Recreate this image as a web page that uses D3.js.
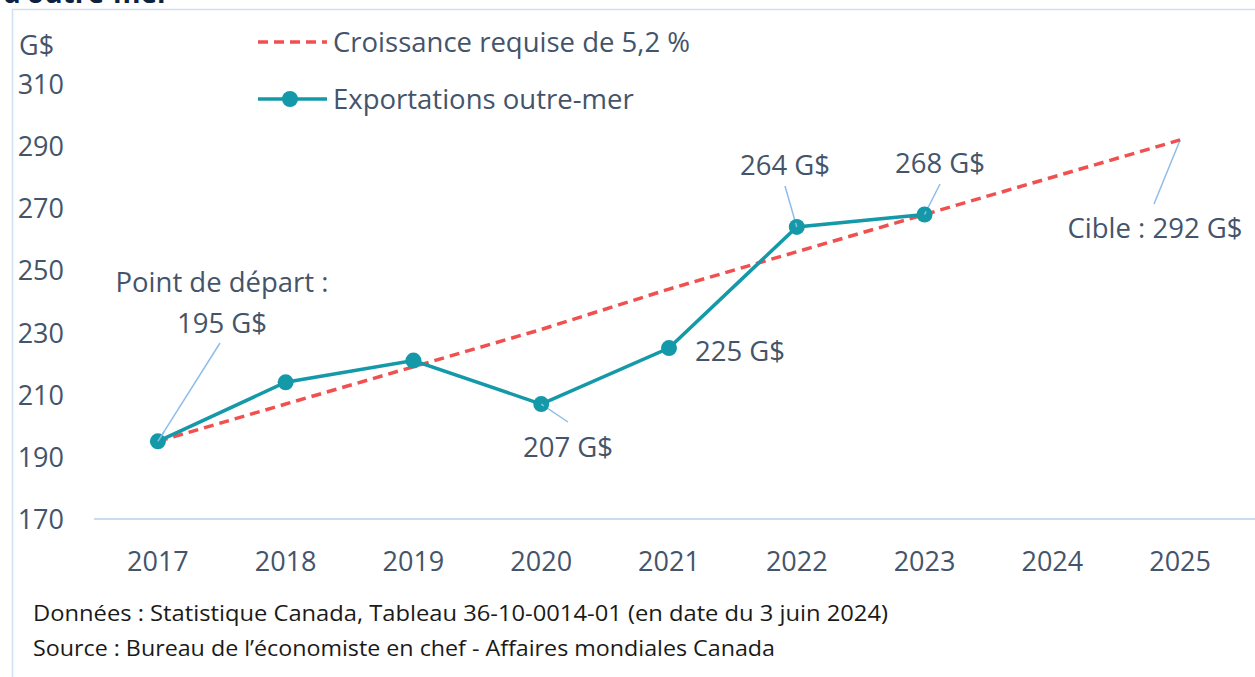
<!DOCTYPE html>
<html>
<head>
<meta charset="utf-8">
<script src="https://cdn.jsdelivr.net/npm/d3@7"></script>
<style>
  html, body { margin: 0; padding: 0; background: #fff; }
  svg { display: block; font-family: "Open Sans", Lato, sans-serif; }
  .tick-label { fill: #44546a; font-size: 27px; }
  .ann { fill: #44546a; font-size: 27.5px; }
  .note { fill: #1a1a1a; font-size: 21px; }
</style>
</head>
<body>
<div id="chart"></div>
<script>
// data
const years = ["2017", "2018", "2019", "2020", "2021", "2022", "2023", "2024", "2025"];
const exportYears = ["2017", "2018", "2019", "2020", "2021", "2022", "2023"];
const exportValues = [195, 214, 221, 207, 225, 264, 268];
const targetValues = [195, 207, 219, 231, 244, 256, 268, 280, 292];
const yTicks = [170, 190, 210, 230, 250, 270, 290, 310];
const seriesNames = ["Croissance requise de 5,2 %", "Exportations outre-mer"];

const width = 1255, height = 677;
const teal = "#1499a8", red = "#f0504f", leader = "#8fbde9";

const svg = d3.select("#chart").append("svg")
  .attr("width", width)
  .attr("height", height);

// frame
svg.append("path")
  .attr("d", "M12.5,677 L12.5,9.5 L1255,9.5")
  .attr("fill", "none")
  .attr("stroke", "#cfe0f2")
  .attr("stroke-width", 1.5);

// title, cut off at the top like the original
svg.append("text")
  .attr("x", 3)
  .attr("y", 3)
  .attr("fill", "#0d2240")
  .attr("font-weight", "bold")
  .attr("font-size", 28)
  .text("d’outre-mer");

let x = d3.scaleBand().domain(years).range([94, 1244]);
let y = d3.scaleLinear().domain([170, 310]).range([519, 84]);
const cx = d => x(d) + x.bandwidth() / 2;

// baseline axis
svg.append("line")
  .attr("x1", 94).attr("x2", 1255)
  .attr("y1", y(170)).attr("y2", y(170))
  .attr("stroke", "#c9dcf0")
  .attr("stroke-width", 2);

// y tick labels
svg.selectAll("text.ytick")
  .data(yTicks)
  .enter().append("text")
  .attr("class", "tick-label ytick")
  .attr("x", 64)
  .attr("y", d => y(d) + 10)
  .attr("text-anchor", "end")
  .text(d => d);

svg.append("text")
  .attr("class", "tick-label")
  .attr("x", 19)
  .attr("y", 55)
  .text("G$");

// x tick labels
svg.selectAll("text.xtick")
  .data(years)
  .enter().append("text")
  .attr("class", "tick-label xtick")
  .attr("x", d => cx(d))
  .attr("y", 571)
  .attr("text-anchor", "middle")
  .text(d => d);

// leader lines for the labels
const leaders = [
  { year: "2017", v: 195, lx: 220, ly: 343 },
  { year: "2020", v: 207, lx: 568, ly: 422 },
  { year: "2022", v: 264, lx: 785, ly: 186 },
  { year: "2023", v: 268, lx: 940, ly: 184 },
  { year: "2025", v: 292, lx: 1154, ly: 204 }
];
svg.selectAll("line.leader")
  .data(leaders)
  .enter().append("line")
  .attr("class", "leader")
  .attr("x1", d => cx(d.year))
  .attr("y1", d => y(d.v))
  .attr("x2", d => d.lx)
  .attr("y2", d => d.ly)
  .attr("stroke", leader)
  .attr("stroke-width", 1.5);

// target line
const line = d3.line().x(d => cx(d[0])).y(d => y(d[1]));
svg.append("path")
  .datum(years.map((d, i) => [d, targetValues[i]]))
  .attr("d", line)
  .attr("fill", "none")
  .attr("stroke", red)
  .attr("stroke-width", 3.5)
  .attr("stroke-dasharray", "10,6");

// exports line
const exp = exportYears.map((d, i) => [d, exportValues[i]]);
svg.append("path")
  .datum(exp)
  .attr("d", line)
  .attr("fill", "none")
  .attr("stroke", teal)
  .attr("stroke-width", 3.5);

svg.selectAll("circle.pt")
  .data(exp)
  .enter().append("circle")
  .attr("class", "pt")
  .attr("cx", d => cx(d[0]))
  .attr("cy", d => y(d[1]))
  .attr("r", 8)
  .attr("fill", teal);

// leader tips drawn over the markers
svg.selectAll("line.tip")
  .data(leaders.filter(d => d.year !== "2025"))
  .enter().append("line")
  .attr("x1", d => cx(d.year))
  .attr("y1", d => y(d.v))
  .attr("x2", d => cx(d.year) + (d.lx - cx(d.year)) * 0.1)
  .attr("y2", d => y(d.v) + (d.ly - y(d.v)) * 0.1)
  .attr("stroke", leader)
  .attr("stroke-width", 1.5);

// annotations
const anns = [
  { t: "Point de départ :", x: 222, y: 292, a: "middle" },
  { t: "195 G$", x: 222, y: 333, a: "middle" },
  { t: "207 G$", x: 568, y: 457, a: "middle" },
  { t: "225 G$", x: 695, y: 361, a: "start" },
  { t: "264 G$", x: 785, y: 175, a: "middle" },
  { t: "268 G$", x: 940, y: 173, a: "middle" },
  { t: "Cible : 292 G$", x: 1155, y: 238, a: "middle" }
];
svg.selectAll("text.ann")
  .data(anns)
  .enter().append("text")
  .attr("class", "ann")
  .attr("x", d => d.x)
  .attr("y", d => d.y)
  .attr("text-anchor", d => d.a)
  .text(d => d.t);

// legend
let legend = svg.append("g");
legend.append("line")
  .attr("x1", 258).attr("x2", 327).attr("y1", 42).attr("y2", 42)
  .attr("stroke", red).attr("stroke-width", 3.5)
  .attr("stroke-dasharray", "10,6");
legend.append("line")
  .attr("x1", 258).attr("x2", 327).attr("y1", 99).attr("y2", 99)
  .attr("stroke", teal).attr("stroke-width", 3.5);
legend.append("circle")
  .attr("cx", 290).attr("cy", 99).attr("r", 8).attr("fill", teal);
legend.selectAll("text")
  .data(seriesNames)
  .enter().append("text")
  .attr("class", "ann")
  .attr("x", 333)
  .attr("y", (d, i) => 52 + i * 57)
  .text(d => d);

// notes
svg.append("text")
  .attr("class", "note")
  .attr("x", 33).attr("y", 621)
  .attr("textLength", 855)
  .attr("lengthAdjust", "spacingAndGlyphs")
  .text("Données : Statistique Canada, Tableau 36-10-0014-01 (en date du 3 juin 2024)");
svg.append("text")
  .attr("class", "note")
  .attr("x", 33).attr("y", 656)
  .attr("textLength", 742)
  .attr("lengthAdjust", "spacingAndGlyphs")
  .text("Source : Bureau de l’économiste en chef - Affaires mondiales Canada");
</script>
</body>
</html>
